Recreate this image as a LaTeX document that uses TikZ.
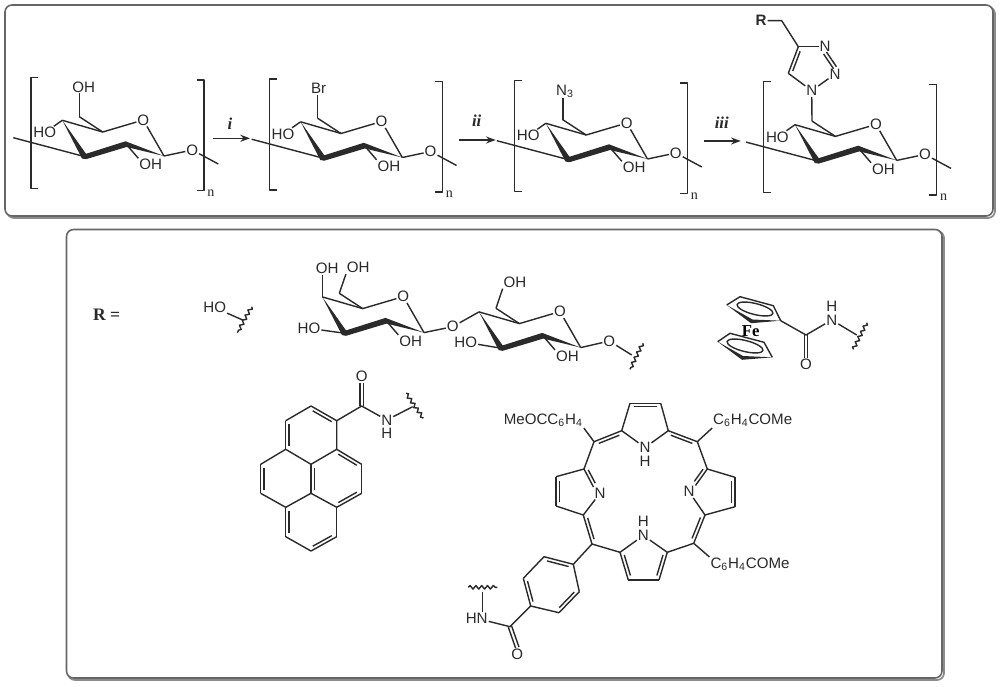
\documentclass[tikz,border=0pt]{standalone}
\usepackage{fontspec}
\setmainfont{Liberation Sans}
\newfontfamily\timesfont{Liberation Serif}
\usetikzlibrary{calc,arrows.meta,decorations.pathmorphing}

\definecolor{inkgray}{HTML}{2A2A2A}
\tikzset{
 bond/.style={draw=inkgray,line width=.8pt,line join=round},
 atom/.style={inner sep=.4pt,text=inkgray,font=\fontsize{8.6}{9}\selectfont},
 polyn/.style={inner sep=0pt,text=inkgray,font=\timesfont\fontsize{8}{9}\selectfont},
 stepname/.style={inner sep=0pt,text=inkgray,font=\timesfont\bfseries\itshape\fontsize{9.5}{10}\selectfont},
 wavy/.style={bond,decorate,decoration={snake,amplitude=1pt,segment length=3.3pt}},
 rxnarrow/.style={bond,-{Stealth[length=5.5pt,width=4pt]}},
 panel/.style={draw=black!60,line width=.9pt,fill=white,rounded corners=4pt},
 panelshadow/.style={draw=black!45,line width=1pt,rounded corners=4pt},
 sugarbase/.pic={\sugarring},
 polyunit/.pic={
  \sugarring
  \node[atom] (-ho) at (44.7,132.7) {HO};
  \node[atom] (-glyO) at (192.3,150) {O};
  \coordinate (-endL) at (13.3,137.7);
  \coordinate (-endR) at (218.3,164);
  \draw[bond] (-c4)--(-ho);
  \draw[bond] (-c1)--(-glyO)--(-endR);
  \draw[bond] (-endL)--(-c3);
  \draw[bond] (38.3,77.3)--(31,77.3)--(31,188.3)--(38.3,188.3);
  \draw[bond] (196.7,80)--(204,80)--(204,190.7)--(196.7,190.7);
  \node[polyn] (-n) at (211,193) {n};
 }
}
\newcommand{\sugarring}{
 \coordinate (-c1) at (164,156);
 \coordinate (-c2) at (126,144);
 \coordinate (-c3) at (85,156.7);
 \coordinate (-c4) at (62.3,120.3);
 \coordinate (-c5) at (102.7,132);
 \coordinate (-ch2) at (79.3,116.7);
 \node[atom] (-ringO) at (143.3,120) {O};
 \node[atom] (-oh) at (150.7,164.7) {OH};
 \draw[bond] (-c4)--(-c5)--(-ringO)--(-c1);
 \draw[bond] (-c5)--(-ch2);
 \draw[bond] (-c2)--(-oh.north west);
 \fill[inkgray] (-c4)--(82,158.5)--(86,159.2)--(126.5,147)--(-c1)--(125.5,141.3)--(86,153.8)--cycle;
}
% parallel line on one side, the sign of #1 picks the side
\newcommand{\dblbond}[3][1.9]{
 \draw[bond] (#2)--(#3);
 \draw[bond] ($(#2)!.13!(#3)!#1pt!90:(#3)$)--($(#3)!.13!(#2)!#1pt!-90:(#2)$);
}
\newcommand{\eqbond}[2]{
 \draw[bond] ($(#1)!1pt!90:(#2)$)--($(#2)!1pt!-90:(#1)$);
 \draw[bond] ($(#1)!1pt!-90:(#2)$)--($(#2)!1pt!90:(#1)$);
}

\begin{document}
\begin{tikzpicture}[x=.02cm,y=-.02cm]
\useasboundingbox (0,0) rectangle (1000,686);

\draw[panelshadow] (7,7) rectangle (995,218);
\draw[panel] (5,5) rectangle (993,216);
\draw[panelshadow] (68,231) rectangle (944,680);
\draw[panel] (66.5,229.5) rectangle (942,678);

%reaction scheme
\pic (ua) at (0,0) {polyunit};
\pic (ub) at (238.3,1.5) {polyunit};
\pic (uc) at (483.5,3) {polyunit};
\pic (ud) at (732.7,4.4) {polyunit};

\node[atom] (ohTop) at (83.7,87) {OH};
\draw[bond] (ua-ch2)--(ohTop.south -| ua-ch2);
\node[atom] (brTop) at (318.7,88.7) {Br};
\draw[bond] (ub-ch2)--(brTop.south -| ub-ch2);
\node[atom] (azTop) at (565,91) {N\textsubscript{3}};
\draw[bond] (uc-ch2)--(azTop.south -| uc-ch2);

\coordinate (arrAs) at (213.3,138.3);
\coordinate (arrAe) at (250,138.3);
\draw[rxnarrow] (arrAs)--(arrAe);
\node[stepname] (stepA) at (230,123.5) {i};
\coordinate (arrBs) at (459,140);
\coordinate (arrBe) at (495.7,140);
\draw[rxnarrow] (arrBs)--(arrBe);
\node[stepname] (stepB) at (476.7,121) {ii};
\coordinate (arrCs) at (704,141);
\coordinate (arrCe) at (740.7,141);
\draw[rxnarrow] (arrCs)--(arrCe);
\node[stepname] (stepC) at (721.7,123) {iii};

%triazole
\node[atom] (tzNa) at (811.7,90.7) {N};
\node[atom] (tzNb) at (835,74) {N};
\node[atom] (tzNc) at (825,46.7) {N};
\coordinate (tzCa) at (788.3,73.3);
\coordinate (tzCb) at (798.3,46.7);
\coordinate (tzCh) at (781.7,20.7);
\node[atom,font=\bfseries\fontsize{8.6}{9}\selectfont] (tzR) at (761,20.7) {R};
\draw[bond] (ud-ch2)--(tzNa);
\draw[bond] (tzNa)--(tzNb);
\draw[bond] (tzNa)--(tzCa);
\dblbond[-1.9]{tzCa}{tzCb}
\draw[bond] (tzCb)--(tzNc);
\eqbond{tzNc.south}{tzNb.north}
\draw[bond] (tzCb)--(tzCh)--(tzR);

%R groups
\node[inner sep=0pt,text=inkgray,font=\timesfont\bfseries\fontsize{10}{11}\selectfont] (rEq) at (106.7,315) {R =};

\node[atom] (hoR) at (214.7,307.7) {HO};
\coordinate (hoEnd) at (242.7,320);
\coordinate (hoWa) at (251.7,306.7);
\coordinate (hoWb) at (237.3,332.7);
\draw[bond] (hoR)--(hoEnd);
\draw[wavy] (hoWa)--(hoWb);

%disaccharide
\pic (la) at (260,176.6) {sugarbase};
\pic (lb) at (416.7,191.6) {sugarbase};
\node[atom] (laOHa) at (327.3,268.3) {OH};
\node[atom] (laOHb) at (358.3,267.7) {OH};
\node[atom] (laHO) at (309,328.3) {HO};
\node[atom] (lkO) at (452.7,326.7) {O};
\node[atom] (lbOHa) at (515,282.3) {OH};
\node[atom] (lbHO) at (465.7,342.3) {HO};
\node[atom] (lbO) at (609.3,341) {O};
\coordinate (lbEnd) at (631.7,355);
\coordinate (lbWa) at (642.7,343.3);
\coordinate (lbWb) at (630,369.3);
\draw[bond] (la-c4)--(laOHa.south -| la-c4);
\draw[bond] (la-ch2)--(laOHb.south west);
\draw[bond] (la-c3)--(laHO);
\draw[bond] (la-c1)--(lkO)--(lb-c4);
\draw[bond] (lb-ch2)--(lbOHa.south west);
\draw[bond] (lb-c3)--(lbHO);
\draw[bond] (lb-c1)--(lbO)--(lbEnd);
\draw[wavy] (lbWa)--(lbWb);

%ferrocene
\coordinate (cpUa) at (726.7,305);
\coordinate (cpUb) at (740,296.7);
\coordinate (cpUc) at (773.3,305.7);
\coordinate (cpUd) at (780.7,320.7);
\coordinate (cpLa) at (717.7,341.7);
\coordinate (cpLb) at (730,333.3);
\coordinate (cpLc) at (764,342.3);
\coordinate (cpLd) at (772.3,357.3);
\draw[bond] (cpUa)--(cpUb)--(cpUc)--(cpUd);
\fill[inkgray] (cpUa)--(751,323.2)--(cpUd)--(752.5,319.5)--cycle;
\draw[bond,rotate around={-14:(755,309)}] (755,309) ellipse [x radius=18.5,y radius=5.5];
\draw[bond] (cpLa)--(cpLb)--(cpLc)--(cpLd);
\fill[inkgray] (cpLa)--(742,359.8)--(cpLd)--(743,356)--cycle;
\draw[bond,rotate around={-14:(745,346)}] (745,346) ellipse [x radius=18.5,y radius=5.5];
\node[inner sep=0pt,text=black,font=\timesfont\bfseries\fontsize{9.5}{10}\selectfont] (feAtom) at (750.7,330.7) {Fe};
\coordinate (fcC) at (806,335);
\node[atom] (fcO) at (806,364.3) {O};
\node[atom] (fcN) at (831.7,320) {N};
\node[atom] (fcH) at (831.7,306.7) {H};
\coordinate (fcEnd) at (856.7,335);
\coordinate (fcWa) at (866.7,322.7);
\coordinate (fcWb) at (853.3,349.3);
\draw[bond] (cpUd)--(fcC)--(fcN)--(fcEnd);
\eqbond{fcC}{fcO.north}
\draw[wavy] (fcWa)--(fcWb);

%pyrene
\coordinate (pyA) at (336.7,420.7);
\coordinate (pyB) at (311,406);
\coordinate (pyC) at (285.7,420.7);
\coordinate (pyD) at (285.7,449.3);
\coordinate (pyE) at (311,464.3);
\coordinate (pyF) at (336.7,449.3);
\coordinate (pyG) at (361.7,464.3);
\coordinate (pyH) at (361.7,493.3);
\coordinate (pyI) at (336.7,507.3);
\coordinate (pyJ) at (311,493.3);
\coordinate (pyK) at (285.7,507.3);
\coordinate (pyL) at (260.7,493.3);
\coordinate (pyM) at (260.7,464.3);
\coordinate (pyN) at (285.7,536.7);
\coordinate (pyP) at (311,551);
\coordinate (pyQ) at (336.7,536.7);
\dblbond[1.9]{pyA}{pyB}
\dblbond[1.9]{pyC}{pyD}
\dblbond[-1.9]{pyF}{pyG}
\dblbond[-1.9]{pyH}{pyI}
\dblbond[1.9]{pyE}{pyJ}
\dblbond[-1.9]{pyL}{pyM}
\dblbond[1.9]{pyK}{pyN}
\dblbond[1.9]{pyP}{pyQ}
\draw[bond] (pyB)--(pyC);
\draw[bond] (pyD)--(pyE)--(pyF)--(pyA);
\draw[bond] (pyD)--(pyM);
\draw[bond] (pyG)--(pyH);
\draw[bond] (pyI)--(pyQ);
\draw[bond] (pyI)--(pyJ)--(pyK)--(pyL);
\draw[bond] (pyN)--(pyP);
\coordinate (pyCo) at (361.7,406);
\node[atom] (pyO) at (361.7,376.7) {O};
\node[atom] (pyNh) at (386.7,420) {N};
\node[atom] (pyHn) at (386.7,433.6) {H};
\coordinate (pyEnd) at (412.7,406.7);
\coordinate (pyWa) at (406,393.3);
\coordinate (pyWb) at (423.3,418.3);
\draw[bond] (pyA)--(pyCo)--(pyNh)--(pyEnd);
\eqbond{pyCo}{pyO.south}
\draw[wavy] (pyWa)--(pyWb);

%porphyrin
\coordinate (mTL) at (594,441.7);
\coordinate (mTR) at (697.3,441.7);
\coordinate (mBL) at (592,544);
\coordinate (mBR) at (693.7,543.3);
\coordinate (tpA) at (621.7,430.7);
\coordinate (tpB) at (630,403.3);
\coordinate (tpC) at (660.7,403.3);
\coordinate (tpD) at (668.3,430.7);
\node[atom] (tpN) at (645,447.5) {N};
\node[atom] (tpH) at (645,461.5) {H};
\coordinate (lpA) at (584,469);
\coordinate (lpB) at (556,476.7);
\coordinate (lpC) at (556,506);
\coordinate (lpD) at (583.3,515);
\node[atom] (lpN) at (600,493.3) {N};
\coordinate (rpA) at (707.3,469);
\coordinate (rpB) at (735,477.3);
\coordinate (rpC) at (735,506.7);
\coordinate (rpD) at (705,515);
\node[atom] (rpN) at (689,491.7) {N};
\coordinate (bpA) at (620,552.3);
\coordinate (bpB) at (628.3,580);
\coordinate (bpC) at (659,580);
\coordinate (bpD) at (667.3,552.3);
\node[atom] (bpN) at (643.3,535.5) {N};
\node[atom] (bpH) at (643.3,521.5) {H};
\dblbond[-1.9]{tpB}{tpC}
\draw[bond] (tpA)--(tpB);
\draw[bond] (tpC)--(tpD);
\draw[bond] (tpA)--(tpN)--(tpD);
\dblbond[-1.9]{mTL}{tpA}
\dblbond[1.9]{mTR}{tpD}
\draw[bond] (mTL)--(lpA);
\draw[bond] (mTR)--(rpA);
\draw[bond] (lpA)--(lpB);
\dblbond[1.9]{lpB}{lpC}
\draw[bond] (lpC)--(lpD)--(lpN);
\dblbond[1.9]{lpA}{lpN.north west}
\draw[bond] (rpA)--(rpB);
\dblbond[-1.9]{rpB}{rpC}
\draw[bond] (rpC)--(rpD)--(rpN);
\dblbond[-1.9]{rpA}{rpN.north east}
\dblbond[1.9]{lpD}{mBL}
\dblbond[-1.9]{rpD}{mBR}
\draw[bond] (mBL)--(bpA);
\draw[bond] (mBR)--(bpD);
\dblbond[1.9]{bpA}{bpB}
\dblbond[-1.9]{bpD}{bpC}
\draw[bond] (bpB)--(bpC);
\draw[bond] (bpA)--(bpN)--(bpD);

\node[atom] (arTL) at (543.3,420.7) {MeOCC\textsubscript{6}H\textsubscript{4}};
\node[atom] (arTR) at (752.7,420.7) {C\textsubscript{6}H\textsubscript{4}COMe};
\node[atom] (arBR) at (750,564.3) {C\textsubscript{6}H\textsubscript{4}COMe};
\draw[bond] (mTL)--(arTL.south east);
\draw[bond] (mTR)--(arTR.south west);
\draw[bond] (mBR)--(arBR.north west);

%benzamide arm
\coordinate (bzA) at (573.3,564.3);
\coordinate (bzB) at (544,556.7);
\coordinate (bzC) at (523.3,578.3);
\coordinate (bzD) at (530.7,606);
\coordinate (bzE) at (559,612.7);
\coordinate (bzF) at (579.3,591.7);
\draw[bond] (mBL)--(bzA);
\dblbond[1.9]{bzA}{bzB}
\draw[bond] (bzB)--(bzC);
\dblbond[1.9]{bzC}{bzD}
\draw[bond] (bzD)--(bzE);
\dblbond[1.9]{bzE}{bzF}
\draw[bond] (bzF)--(bzA);
\coordinate (bzCo) at (510,626.7);
\node[atom] (bzO) at (517.3,654) {O};
\node[atom] (bzN) at (476.7,618.3) {HN};
\coordinate (bzEnd) at (482.3,591.7);
\coordinate (bzWa) at (468.3,587.3);
\coordinate (bzWb) at (497.3,587.3);
\draw[bond] (bzD)--(bzCo)--(bzN);
\draw[bond] (bzN.north -| bzEnd)--(bzEnd);
\eqbond{bzCo}{bzO.north}
\draw[wavy] (bzWa)--(bzWb);

\end{tikzpicture}
\end{document}
